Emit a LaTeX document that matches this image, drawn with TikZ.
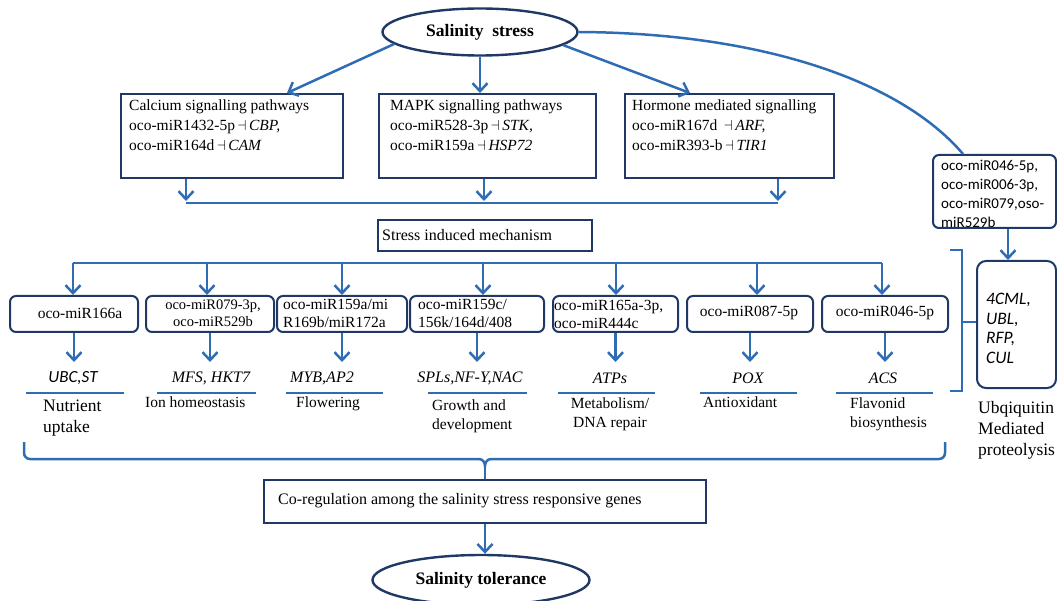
\documentclass[tikz,border=0pt]{standalone}
\usepackage{fontspec}
\setmainfont{Liberation Serif}
\newfontfamily\carl{Carlito}
\usetikzlibrary{shapes.geometric,arrows.meta}
\definecolor{ablue}{HTML}{2E6DB4}
\definecolor{navy}{HTML}{1F3864}
\begin{document}
\begin{tikzpicture}[x=1pt,y=-1pt,
 arr/.style={draw=ablue,line width=2.5pt,-{Straight Barb[length=8pt,width=15pt]}},
 ln/.style={draw=ablue,line width=2.5pt},
 sqbox/.style={draw=navy,line width=2pt,rectangle,inner sep=0pt,anchor=north west},
 rbox/.style={sqbox,rounded corners=6pt},
 oval/.style={draw=navy,line width=2.4pt,ellipse,inner sep=0pt,font=\fontsize{17.5}{20}\selectfont\bfseries},
 txt/.style={inner sep=0pt,align=left,font=\fontsize{15.5}{20}\selectfont},
 ctxt/.style={inner sep=0pt,align=center,font=\fontsize{15.5}{18}\selectfont},
 gene/.style={inner sep=0pt,font=\fontsize{16}{18}\selectfont\itshape},
 func/.style={inner sep=0pt,align=left,font=\fontsize{15.5}{19}\selectfont},
 big/.style={inner sep=0pt,align=left,font=\fontsize{17.5}{21}\selectfont},
 sans/.style={inner sep=0pt,align=left,font=\fontsize{15}{19}\selectfont\carl},
]
\useasboundingbox (0,0) rectangle (1057,601);
% top ellipse
\node[oval,minimum width=195pt,minimum height=47pt] (ss) at (480,32) {Salinity\ \ stress};
% pathway boxes
\node[sqbox,minimum width=222pt,minimum height=84pt] (ca) at (120,93) {};
\node[sqbox,minimum width=217pt,minimum height=84pt] (mk) at (378,93) {};
\node[sqbox,minimum width=209pt,minimum height=84pt] (hm) at (624,93) {};
\node[txt,anchor=north west] (caT) at (129,100) {Calcium signalling pathways\\oco-miR1432-5p\,$\dashv$\,\textit{CBP,}\\oco-miR164d\,$\dashv$\,\textit{CAM}};
\node[txt,anchor=north west] (mkT) at (390,100) {MAPK signalling pathways\\oco-miR528-3p\,$\dashv$\,\textit{STK,}\\oco-miR159a\,$\dashv$\,\textit{HSP72}};
\node[txt,anchor=north west] (hmT) at (632,100) {Hormone mediated signalling\\oco-miR167d \,$\dashv$\,\textit{ARF,}\\oco-miR393-b\,$\dashv$\,\textit{TIR1}};
% right list
\node[rbox,minimum width=123pt,minimum height=73pt] (ml) at (932,154) {};
\node[sans,anchor=north west] (mlT) at (941,160) {oco-miR046-5p,\\oco-miR006-3p,\\oco-miR079,oso-\\miR529b};
\node[rbox,minimum width=79pt,minimum height=127pt,rounded corners=9pt] (ub) at (976,260) {};
\node[inner sep=0pt,align=left,font=\fontsize{17.5}{19.5}\selectfont\carl\itshape,anchor=north west] (ubT) at (986,293) {4CML,\\UBL,\\RFP,\\CUL};
\node[big,anchor=north west] (ubL) at (978,401) {Ubqiquitin\\Mediated\\proteolysis};
% arrows from ellipse
\draw[arr] (ss.188) -- (ca.north -| 287,0);
\draw[arr] (ss.south) -- (mk.north -| ss.south);
\draw[arr] (ss.-9) -- (hm.north -| 690,0);
\coordinate (mlc) at (963,154);
\draw[ln] (ss.east) .. controls (760,33) and (900,80) .. (mlc);
\draw[arr] (ml.south -| 1008,0) -- (ub.north -| 1008,0);
% collector line
\coordinate (j1) at (186,203);
\coordinate (j3) at (778,203);
\draw[ln] (j1) -- (j3);
\draw[arr] (ca.south -| j1) -- (186,201);
\draw[arr] (mk.south -| 484,0) -- (484,201);
\draw[arr] (hm.south -| j3) -- (778,201);
% stress induced
\node[sqbox,minimum width=214pt,minimum height=31pt] (sim) at (377,219) {};
\node[txt,font=\fontsize{16}{20}\selectfont,anchor=west] (simT) at (382,235) {Stress induced mechanism};
% distribution line
\coordinate (d1) at (73,263);
\coordinate (d2) at (207,263);
\coordinate (d3) at (342,263);
\coordinate (d4) at (483,263);
\coordinate (d5) at (616,263);
\coordinate (d6) at (757,263);
\coordinate (d7) at (882,263);
\draw[ln] (d1) -- (d7);
% row boxes
\node[rbox,minimum width=128pt,minimum height=36pt] (r1) at (9,295) {};
\node[rbox,minimum width=128pt,minimum height=36pt] (r2) at (145,295) {};
\node[rbox,minimum width=130pt,minimum height=36pt] (r3) at (276,295) {};
\node[rbox,minimum width=134pt,minimum height=36pt] (r4) at (409,295) {};
\node[rbox,minimum width=125pt,minimum height=36pt] (r5) at (552,295) {};
\node[rbox,minimum width=126pt,minimum height=36pt] (r6) at (686,295) {};
\node[rbox,minimum width=126pt,minimum height=36pt] (r7) at (821,295) {};
\foreach \i in {1,...,7}{\draw[arr] (d\i) -- (d\i |- r\i.north);}
\node[ctxt] (r1T) at (80,313) {oco-miR166a};
\node[ctxt,font=\fontsize{14.5}{17}\selectfont] (r2T) at (213,313.5) {oco-miR079-3p,\\oco-miR529b};
\node[txt,font=\fontsize{15.5}{18}\selectfont,anchor=west] (r3T) at (283,313) {oco-miR159a/mi\\R169b/miR172a};
\node[txt,font=\fontsize{15.5}{18}\selectfont,anchor=west] (r4T) at (418,313) {oco-miR159c/\\156k/164d/408};
\node[txt,font=\fontsize{15.5}{18}\selectfont,anchor=west] (r5T) at (554,314) {oco-miR165a-3p,\\oco-miR444c};
\node[ctxt] (r6T) at (749,313) {oco-miR087-5p};
\node[ctxt] (r7T) at (885,313) {oco-miR046-5p};
% gene labels
\node[inner sep=0pt,font=\fontsize{17}{19}\selectfont\carl\itshape] (g1) at (73,378) {UBC,ST};
\node[gene] (g2) at (211,378) {MFS, HKT7};
\node[gene] (g3) at (322,378) {MYB,AP2};
\node[gene] (g4) at (470,378) {SPLs,NF-Y,NAC};
\node[gene] (g5) at (610,378) {ATPs};
\node[gene] (g6) at (748,378) {POX};
\node[gene] (g7) at (883,378) {ACS};
\foreach \i in {1,...,7}{\draw[arr] (r\i.south) -- ++(0,29);}
\draw[ln] (26,393) -- (124,393);
\draw[ln] (157,393) -- (256,393);
\draw[ln] (286,393) -- (383,393);
\draw[ln] (428,393) -- (527,393);
\draw[ln] (558,393) -- (655,393);
\draw[ln] (700,393) -- (797,393);
\draw[ln] (836,393) -- (933,393);
% function labels
\node[big,align=left,anchor=north west] (f1) at (43,400) {Nutrient\\uptake};
\node[func,anchor=north west] (f2) at (145,397) {Ion homeostasis};
\node[func,anchor=north west] (f3) at (296,397) {Flowering};
\node[func,anchor=north west] (f4) at (432,400) {Growth and\\development};
\node[func,align=center,anchor=north] (f5) at (610,398) {Metabolism/\\DNA repair};
\node[func,anchor=north west] (f6) at (703,397) {Antioxidant};
\node[func,anchor=north west] (f7) at (850,398) {Flavonid\\biosynthesis};
% right bracket
\coordinate (bk) at (962,322);
\draw[ln] (950,250) -- (962,250) -- (962,391) -- (950,391);
\draw[ln] (bk) -- (bk -| ub.west);
% bottom brace
\node[sqbox,minimum width=442pt,minimum height=43pt] (co) at (263,479) {};
\node[txt,font=\fontsize{16}{20}\selectfont,anchor=west] (coT) at (278,501) {Co-regulation among the salinity stress responsive genes};
\coordinate (bm) at (485,466);
\draw[ln,rounded corners=6pt] (24,442) -- (24,459) -- (479,459);
\draw[ln,rounded corners=6pt] (491,459) -- (945,459) -- (945,442);
\draw[ln] (479,459) to[out=0,in=90] (bm) to[out=90,in=180] (491,459);
\draw[ln] (bm) -- (bm |- co.north);
% salinity tolerance
\node[oval,minimum width=217pt,minimum height=50pt] (st) at (481,580) {Salinity tolerance};
\draw[arr] (co.south -| bm) -- (st.north -| bm);
\end{tikzpicture}
\end{document}
